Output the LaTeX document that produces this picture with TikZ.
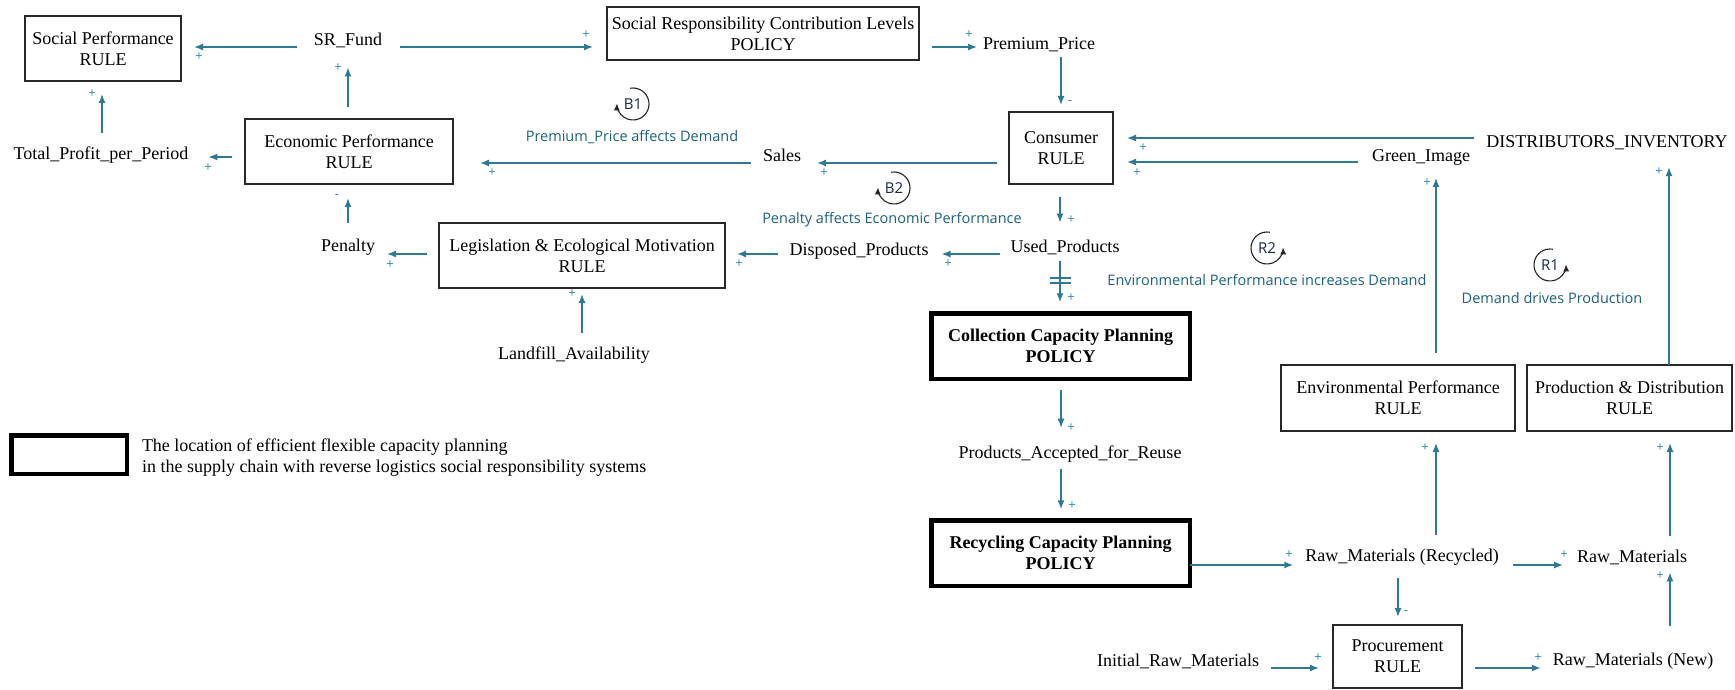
\documentclass[tikz,border=0pt]{standalone}
\usepackage{fontspec}
\setmainfont{Liberation Serif}
\newfontfamily\labelfont{Open Sans}
\usetikzlibrary{arrows.meta,calc}
\definecolor{linkc}{RGB}{45,122,148}
\definecolor{signc}{RGB}{50,138,176}
\definecolor{loopc}{RGB}{28,98,128}
\definecolor{idc}{RGB}{25,42,62}
\definecolor{boxc}{RGB}{40,40,40}
\begin{document}
\begin{tikzpicture}[x=1pt,y=-1pt,
  every node/.style={inner sep=0pt, outer sep=0pt},
  varbox/.style={draw=boxc, line width=1.3pt, fill=white, align=center, font=\fontsize{18}{21}\selectfont},
  keybox/.style={draw=black, line width=4.5pt, fill=white, align=center, font=\fontsize{18}{21}\selectfont\bfseries},
  varname/.style={font=\fontsize{18}{21}\selectfont},
  cause/.style={draw=linkc, line width=1.4pt, -{Latex[length=9pt,width=7pt]}},
  pol/.style={text=signc, font=\labelfont\fontsize{13}{13}\selectfont},
  looptext/.style={text=loopc, font=\labelfont\fontsize{14.5}{16}\selectfont},
  loopid/.style={text=idc, font=\labelfont\fontsize{15}{16}\selectfont},
  loopring/.style={draw=black!85, line width=1.1pt, -{Latex[length=7pt,width=6pt]}},
]
\fill[white] (0,0) rectangle (1735,690);
\useasboundingbox (0,0) rectangle (1735,690);

% ---------- rule and policy boxes ----------
\node[varbox, minimum width=156pt, minimum height=65pt] (sp) at (103,48.5) {Social Performance\\RULE};
\node[varbox, minimum width=312pt, minimum height=53pt] (srcl) at (763,33.5) {Social Responsibility Contribution Levels\\POLICY};
\node[varbox, minimum width=208pt, minimum height=65pt] (econ) at (349,151.5) {Economic Performance\\RULE};
\node[varbox, minimum width=104pt, minimum height=72pt] (consumer) at (1061,148) {Consumer\\RULE};
\node[varbox, minimum width=286pt, minimum height=65pt] (leg) at (582,255.5) {Legislation \& Ecological Motivation\\RULE};
\node[varbox, minimum width=234pt, minimum height=66pt] (env) at (1398,398) {Environmental Performance\\RULE};
\node[varbox, minimum width=205pt, minimum height=66pt] (prod) at (1629.5,398) {Production \& Distribution\\RULE};
\node[varbox, minimum width=129pt, minimum height=63pt] (proc) at (1397.5,656.5) {Procurement\\RULE};
\node[keybox, minimum width=258.5pt, minimum height=65.5pt] (collect) at (1060.5,346) {Collection Capacity Planning\\POLICY};
\node[keybox, minimum width=258.5pt, minimum height=65.5pt] (recycle) at (1060.5,553) {Recycling Capacity Planning\\POLICY};

% ---------- variables ----------
\node[varname] (srfund) at (348,40) {SR\_Fund};
\node[varname] (profit) at (101,155) {Total\_Profit\_per\_Period};
\node[varname] (price) at (1039,45) {Premium\_Price};
\node[varname] (sales) at (782,155) {Sales};
\node[varname] (green) at (1421,157) {Green\_Image};
\node[varname] (inventory) at (1607,143) {DISTRIBUTORS\_INVENTORY};
\node[varname] (used) at (1065,247) {Used\_Products};
\node[varname] (disposed) at (859,251) {Disposed\_Products};
\node[varname] (penalty) at (348,247) {Penalty};
\node[varname] (landfill) at (574,355) {Landfill\_Availability};
\node[varname] (accepted) at (1070,454) {Products\_Accepted\_for\_Reuse};
\node[varname] (rawrec) at (1402,557) {Raw\_Materials (Recycled)};
\node[varname] (raw) at (1632,557) {Raw\_Materials};
\node[varname] (initial) at (1178,661) {Initial\_Raw\_Materials};
\node[varname] (rawnew) at (1633,661) {Raw\_Materials (New)};

% ---------- causal links ----------
\draw[cause, shorten <=17pt, shorten >=13pt] (srfund.west |- 0,47) -- (sp.east |- 0,47);
\draw[cause, shorten <=18pt, shorten >=14pt] (srfund.east |- 0,47) -- (srcl.west |- 0,47);
\draw[cause, shorten <=13pt, shorten >=6pt] (srcl.east |- 0,47) -- (price.west |- 0,47);
\draw[cause, shorten <=5pt, shorten >=7pt] (price.south -| consumer.north) -- (consumer.north);
\draw[cause, shorten <=12pt, shorten >=14pt] (inventory.west |- 0,138) -- (consumer.east |- 0,138);
\draw[cause, shorten <=14pt, shorten >=14pt] (green.west |- 0,162) -- (consumer.east |- 0,162);
\draw[cause, shorten <=12pt, shorten >=16pt] (consumer.west |- 0,163) -- (sales.east |- 0,163);
\draw[cause, shorten <=12pt, shorten >=27pt] (sales.west |- 0,163) -- (econ.east |- 0,163);
\draw[cause, shorten <=13pt, shorten >=20pt] (econ.west |- 0,157) -- (profit.east |- 0,157);
\draw[cause, shorten <=14pt, shorten >=13pt] (profit.north -| 102,0) -- (sp.south -| 102,0);
\draw[cause, shorten <=12pt, shorten >=20pt] (econ.north -| 348,0) -- (srfund.south -| 348,0);
\draw[cause, shorten <=16pt, shorten >=14pt] (penalty.north -| 348,0) -- (econ.south -| 348,0);
\draw[cause, shorten <=12pt, shorten >=12pt] (leg.west |- 0,254) -- (penalty.east |- 0,254);
\draw[cause, shorten <=14pt, shorten >=6pt] (landfill.north -| 582,0) -- (leg.south -| 582,0);
\draw[cause, shorten <=12pt, shorten >=12pt] (disposed.west |- 0,254) -- (leg.east |- 0,254);
\draw[cause, shorten <=11pt, shorten >=13pt] (used.west |- 0,254) -- (disposed.east |- 0,254);
\draw[cause, shorten <=13pt, shorten >=17pt] (consumer.south -| 1060,0) -- (used.north -| 1060,0);
\draw[cause, shorten <=7pt, shorten >=11pt] (used.south -| 1060,0) -- (collect.north -| 1060,0);
\draw[cause, shorten <=11pt, shorten >=18pt] (collect.south -| 1061,0) -- (accepted.north -| 1061,0);
\draw[cause, shorten <=7pt, shorten >=11pt] (accepted.south -| 1061,0) -- (recycle.north -| 1061,0);
\draw[cause, shorten >=12pt] (recycle.east |- 0,565) -- (rawrec.west |- 0,565);
\draw[cause, shorten <=14pt, shorten >=14pt] (rawrec.east |- 0,565) -- (raw.west |- 0,565);
\draw[cause, shorten <=14pt, shorten >=12pt] (rawrec.north -| 1436,0) -- (env.south -| 1436,0);
\draw[cause, shorten <=14pt, shorten >=12pt] (raw.north -| 1670,0) -- (prod.south -| 1670,0);
\draw[cause, shorten <=12pt, shorten >=13pt] (env.north -| 1436,0) -- (green.south -| 1436,0);
\draw[cause, shorten >=17pt] (prod.north -| 1669,0) -- (inventory.south -| 1669,0);
\draw[cause, shorten <=13pt, shorten >=8pt] (rawrec.south -| 1398,0) -- (proc.north -| 1398,0);
\draw[cause, shorten <=12pt, shorten >=14pt] (initial.east |- 0,668) -- (proc.west |- 0,668);
\draw[cause, shorten <=13pt, shorten >=12pt] (proc.east |- 0,668) -- (rawnew.west |- 0,668);
\draw[cause, shorten <=27pt, shorten >=8pt] (rawnew.north -| 1670,0) -- (raw.south -| 1670,0);

% delay mark on the collection link
\coordinate (delay) at (1060,280.5);
\draw[linkc, line width=1.8pt] ($(delay)+(-10,-2.5)$) -- ($(delay)+(11,-2.5)$)
                               ($(delay)+(-10,2.5)$) -- ($(delay)+(11,2.5)$);

% ---------- polarities ----------
\node[pol] (s1) at (199,57) {+};
\node[pol] (s2) at (586,35) {+};
\node[pol] (s3) at (969,35) {+};
\node[pol] (s4) at (1070,103) {-};
\node[pol] (s5) at (1143,148) {+};
\node[pol] (s6) at (1137,173) {+};
\node[pol] (s7) at (824,173) {+};
\node[pol] (s8) at (492,173) {+};
\node[pol] (s9) at (208,168) {+};
\node[pol] (s10) at (92,94) {+};
\node[pol] (s11) at (338,68) {+};
\node[pol] (s12) at (337,197) {-};
\node[pol] (s13) at (390,265) {+};
\node[pol] (s14) at (572,294) {+};
\node[pol] (s15) at (739,264) {+};
\node[pol] (s16) at (948,264) {+};
\node[pol] (s17) at (1071,220) {+};
\node[pol] (s18) at (1071,298) {+};
\node[pol] (s19) at (1071,428) {+};
\node[pol] (s20) at (1072,506) {+};
\node[pol] (s21) at (1289,555) {+};
\node[pol] (s22) at (1564,555) {+};
\node[pol] (s23) at (1425,448) {+};
\node[pol] (s24) at (1660,448) {+};
\node[pol] (s25) at (1427,183) {+};
\node[pol] (s26) at (1659,172) {+};
\node[pol] (s27) at (1406,613) {-};
\node[pol] (s28) at (1318,658) {+};
\node[pol] (s29) at (1538,658) {+};
\node[pol] (s30) at (1660,576) {+};

% ---------- feedback loops ----------
\node[loopid] (b1) at (633,104) {B1};
\draw[loopring] (b1.center) ++(100:16pt) arc[start angle=100, end angle=-182, radius=16pt];
\node[looptext] (b1t) at (632,137) {Premium\_Price affects Demand};

\node[loopid] (b2) at (894,188) {B2};
\draw[loopring] (b2.center) ++(100:16pt) arc[start angle=100, end angle=-182, radius=16pt];
\node[looptext] (b2t) at (892,220) {Penalty affects Economic Performance};

\node[loopid] (r2) at (1267,248) {R2};
\draw[loopring] (r2.center) ++(80:16pt) arc[start angle=80, end angle=362, radius=16pt];
\node[looptext] (r2t) at (1267,280) {Environmental Performance increases Demand};

\node[loopid] (r1) at (1550,265) {R1};
\draw[loopring] (r1.center) ++(80:16pt) arc[start angle=80, end angle=362, radius=16pt];
\node[looptext] (r1t) at (1552,298) {Demand drives Production};

% ---------- legend ----------
\node[keybox, minimum width=115.5pt, minimum height=38.5pt] (legendbox) at (69,454.5) {};
\node[varname, align=left, anchor=west] (legendtext) at (142,457.5)
  {The location of efficient flexible capacity planning\\in the supply chain with reverse logistics social responsibility systems};
\end{tikzpicture}
\end{document}
